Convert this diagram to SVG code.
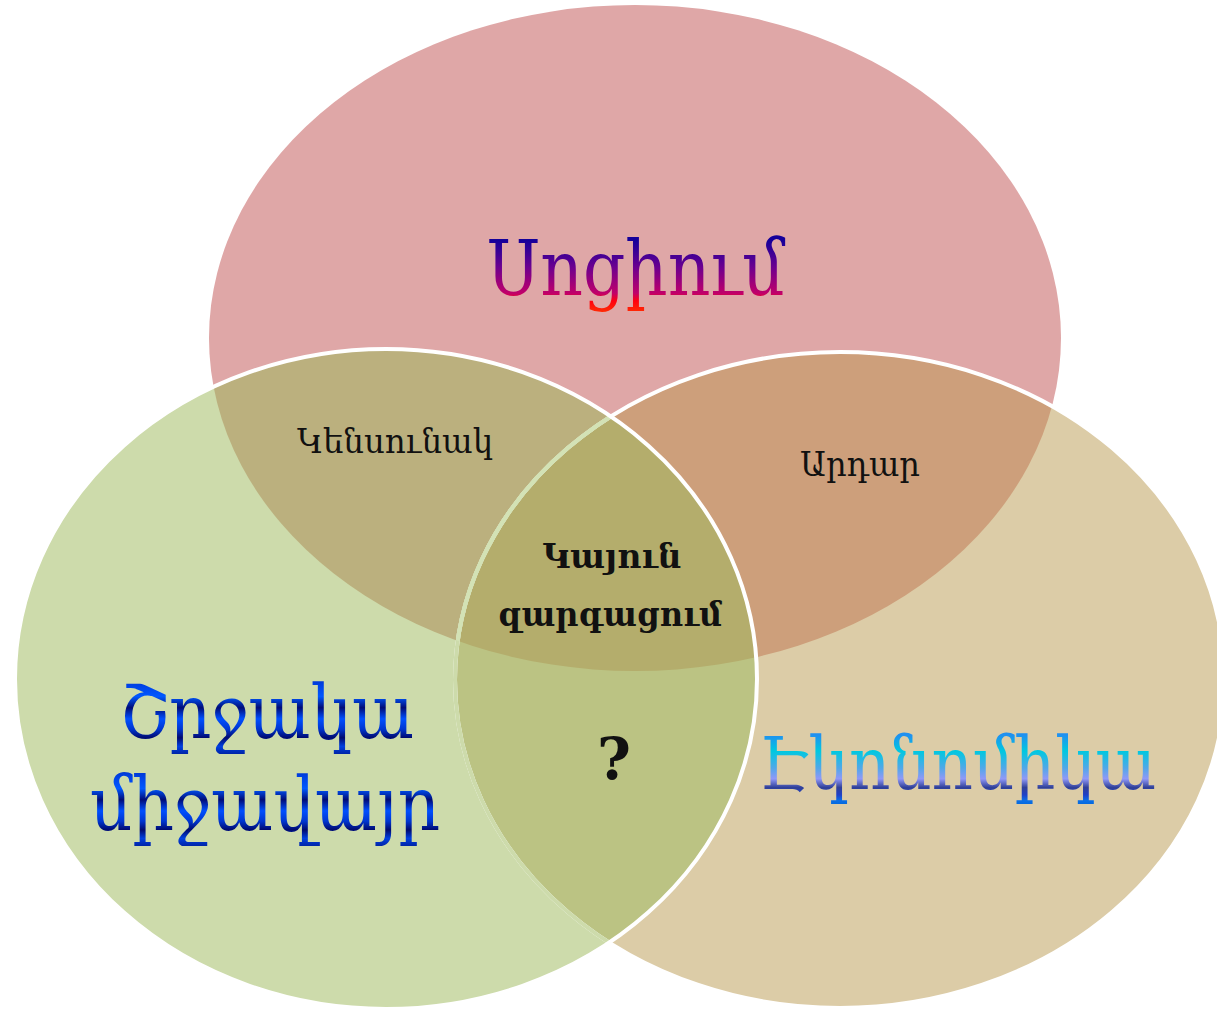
<svg xmlns="http://www.w3.org/2000/svg" width="1217" height="1009" viewBox="0 0 1217 1009">
  <defs>
    <clipPath id="cTop"><ellipse cx="635" cy="338" rx="426" ry="333"/></clipPath>
    <clipPath id="cLeft"><ellipse cx="386" cy="679" rx="371" ry="330"/></clipPath>
    <linearGradient id="gTop" gradientUnits="userSpaceOnUse" x1="0" y1="240" x2="0" y2="316">
      <stop offset="0" stop-color="#14009a"/>
      <stop offset="0.35" stop-color="#6a0090"/>
      <stop offset="0.7" stop-color="#c0006a"/>
      <stop offset="0.8" stop-color="#ff0010"/>
      <stop offset="1" stop-color="#ff3a00"/>
    </linearGradient>
    <linearGradient id="gBlue" x1="0" y1="0" x2="0" y2="1">
      <stop offset="0" stop-color="#0022b0"/>
      <stop offset="0.2" stop-color="#0044e8"/>
      <stop offset="0.32" stop-color="#0058ff"/>
      <stop offset="0.45" stop-color="#000c78"/>
      <stop offset="0.58" stop-color="#0050ff"/>
      <stop offset="0.7" stop-color="#0036d0"/>
      <stop offset="0.8" stop-color="#000a70"/>
      <stop offset="0.9" stop-color="#0040e0"/>
      <stop offset="1" stop-color="#0020a0"/>
    </linearGradient>
    <linearGradient id="gEco" gradientUnits="userSpaceOnUse" x1="0" y1="735" x2="0" y2="808">
      <stop offset="0" stop-color="#2090f0"/>
      <stop offset="0.22" stop-color="#00c8e0"/>
      <stop offset="0.45" stop-color="#50a8e8"/>
      <stop offset="0.6" stop-color="#9098f8"/>
      <stop offset="0.72" stop-color="#304098"/>
      <stop offset="0.82" stop-color="#2040c8"/>
      <stop offset="0.9" stop-color="#0a70e8"/>
      <stop offset="1" stop-color="#0060d0"/>
    </linearGradient>
    <style>
      .lbl { font-family: "DejaVu Serif", "Liberation Serif", serif; text-anchor: middle; }
      .small { font-size: 34px; fill: #111; }
      .bold { font-size: 34px; font-weight: bold; fill: #111; }
      .edge { fill: none; stroke: #ffffff; stroke-width: 4; }
    </style>
  </defs>

  <rect width="1217" height="1009" fill="#ffffff"/>

  <g id="node-top">
    <ellipse cx="635" cy="338" rx="426" ry="333" fill="#dfa7a7"/>
  </g>
  <g id="node-right">
    <ellipse cx="840" cy="680" rx="385" ry="328" fill="#dccca7"/>
  </g>
  <g id="node-left">
    <ellipse cx="386" cy="679" rx="371" ry="330" fill="#cddbab"/>
  </g>

  <g id="overlaps">
    <ellipse id="top-right" cx="840" cy="680" rx="385" ry="328" fill="#cd9f7b" clip-path="url(#cTop)"/>
    <ellipse id="top-left" cx="386" cy="679" rx="371" ry="330" fill="#bbb07e" clip-path="url(#cTop)"/>
    <ellipse id="left-right" cx="840" cy="680" rx="385" ry="328" fill="#bbc383" clip-path="url(#cLeft)"/>
    <g id="center" clip-path="url(#cLeft)">
      <ellipse cx="840" cy="680" rx="385" ry="328" fill="#b4ad6c" clip-path="url(#cTop)"/>
    </g>
  </g>

  <g id="outlines">
    <ellipse class="edge" cx="840" cy="680" rx="385" ry="328"/>
    <ellipse cx="840" cy="680" rx="385" ry="328" fill="none" stroke="#cddbab" stroke-width="4" clip-path="url(#cLeft)"/>
    <g clip-path="url(#cLeft)">
      <ellipse cx="840" cy="680" rx="385" ry="328" fill="none" stroke="#d3e2b5" stroke-width="4" clip-path="url(#cTop)"/>
    </g>
    <ellipse class="edge" cx="386" cy="679" rx="371" ry="330"/>
  </g>

  <g id="labels">
    <text class="lbl" x="636" y="295" font-size="76" fill="url(#gTop)" textLength="298" lengthAdjust="spacingAndGlyphs">Սոցիում</text>
    <text class="lbl" x="267" y="738" font-size="74" fill="url(#gBlue)" textLength="295" lengthAdjust="spacingAndGlyphs">Շրջակա</text>
    <text class="lbl" x="265" y="830" font-size="74" fill="url(#gBlue)" textLength="350" lengthAdjust="spacingAndGlyphs">միջավայր</text>
    <text class="lbl" x="958" y="789" font-size="72" fill="url(#gEco)" textLength="397" lengthAdjust="spacingAndGlyphs">Էկոնոմիկա</text>
    <text class="lbl small" x="395" y="453" textLength="196" lengthAdjust="spacingAndGlyphs">Կենսունակ</text>
    <text class="lbl small" x="860" y="476" textLength="120" lengthAdjust="spacingAndGlyphs">Արդար</text>
    <text class="lbl bold" x="612" y="568" textLength="139" lengthAdjust="spacingAndGlyphs">Կայուն</text>
    <text class="lbl bold" x="610" y="626" textLength="224" lengthAdjust="spacingAndGlyphs">զարգացում</text>
    <text class="lbl" x="614" y="779" font-size="58" font-weight="bold" fill="#111">?</text>
  </g>
</svg>
